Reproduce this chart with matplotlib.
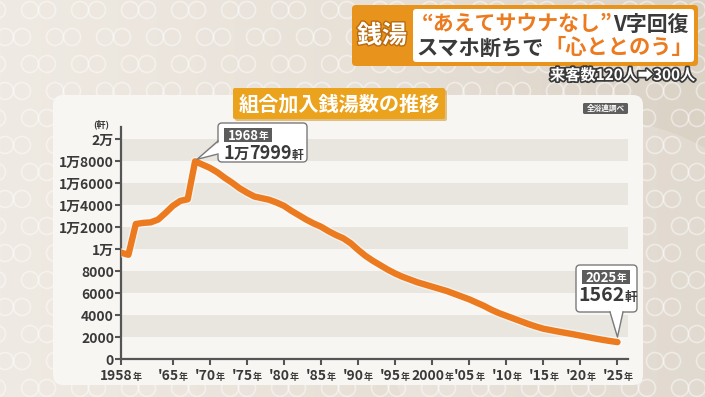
import matplotlib
matplotlib.use("Agg")
import numpy as np
import matplotlib.pyplot as plt
from matplotlib.patches import FancyBboxPatch, Polygon, Circle, Rectangle
from matplotlib.offsetbox import TextArea, HPacker, AnnotationBbox
from matplotlib.colors import LinearSegmentedColormap
import matplotlib.patheffects as pe

plt.rcParams['font.family'] = ['Noto Sans CJK JP', 'DejaVu Sans']

# ---------------- data ----------------
years = list(range(1958, 2026))
counts = [9700, 9500, 12300, 12400, 12450, 12700, 13300, 13950, 14400, 14550,
          17999, 17700, 17400, 17000, 16500, 16050, 15550, 15150, 14800, 14650,
          14500, 14250, 13950, 13500, 13100, 12700, 12350, 12050, 11650, 11300,
          11000, 10550, 9950, 9400, 8950, 8550, 8150, 7800, 7500, 7250,
          7000, 6800, 6600, 6400, 6200, 5950, 5700, 5450, 5150, 4850,
          4500, 4200, 3950, 3700, 3450, 3200, 2980, 2780, 2650, 2520,
          2400, 2280, 2150, 2020, 1890, 1770, 1660, 1562]
band_ranges = [(2000, 4000), (6000, 8000), (10000, 12000), (14000, 16000), (18000, 20000)]
ytick_values = list(range(0, 20001, 2000))
ytick_labels = ["0", "2000", "4000", "6000", "8000", "1万", "1万2000", "1万4000",
                "1万6000", "1万8000", "2万"]
xtick_years = [1958, 1965, 1970, 1975, 1980, 1985, 1990, 1995, 2000, 2005, 2010, 2015, 2020, 2025]
xtick_nums = ["1958", "'65", "'70", "'75", "'80", "'85", "'90", "'95", "2000", "'05",
              "'10", "'15", "'20", "'25"]
year_suffix = "年"
peak_year, peak_value = 1968, 17999
last_year, last_value = 2025, 1562
title = "組合加入銭湯数の推移"
source = "全浴連調べ"
unit = "(軒)"

# ---------------- colours ----------------
ORANGE = '#EC7A1F'
DARK = '#3A3A3A'
W, H = 705, 397

fig = plt.figure(figsize=(W / 100, H / 100), dpi=100)

# background layer (pixel coordinates, y downwards)
bg = fig.add_axes([0, 0, 1, 1], zorder=0)
cmap = LinearSegmentedColormap.from_list('bgc', ['#EFEAE3', '#E8E1D8', '#DBD2C6'])
bg.imshow(np.linspace(0, 1, 256)[None, :], extent=[0, W, H, 0], aspect='auto', cmap=cmap)
for r, yy in enumerate(range(10, H + 20, 27)):
    off = 0 if r % 2 == 0 else 25
    for xx in range(-20 + off, W + 40, 50):
        for dx in (0, 17):
            bg.add_patch(Circle((xx + dx, yy), 8.5, fill=False, ec='white', lw=1.2, alpha=0.45))
bg.add_patch(Circle((600, 330), 210, fc='white', ec='none', alpha=0.18))
bg.add_patch(FancyBboxPatch((53, 95), 590, 290, boxstyle='round,pad=0,rounding_size=10',
                            fc='#F8F6F2', ec='none'))
bg.set_xlim(0, W)
bg.set_ylim(H, 0)
bg.axis('off')

# ---------------- chart axes ----------------
y0_px, ytop_px = 359.3, 126.5
x0_px, x1_px = 121, 628
ax = fig.add_axes([x0_px / W, (H - y0_px) / H, (x1_px - x0_px) / W, (y0_px - ytop_px) / H], zorder=2)
ax.patch.set_alpha(0)
ax.set_xlim(1958, 1958 + (x1_px - x0_px) / 7.41)
ax.set_ylim(0, (y0_px - ytop_px) / 0.011)

for lo, hi in band_ranges:
    ax.axhspan(lo, hi, color='#E9E6E0', zorder=0, lw=0)

ax.plot(years, counts, color=ORANGE, lw=4.6, solid_capstyle='round', solid_joinstyle='round',
        zorder=3, path_effects=[pe.withStroke(linewidth=6.5, foreground='white', alpha=0.5)])

for s in ['top', 'right']:
    ax.spines[s].set_visible(False)
for s in ['left', 'bottom']:
    ax.spines[s].set_color('#555555')
    ax.spines[s].set_linewidth(1.6)

ax.set_yticks(ytick_values)
ax.set_yticklabels(ytick_labels, fontsize=10, fontweight='bold', color=DARK)
ax.set_xticks(xtick_years)
ax.set_xticklabels([])
ax.tick_params(axis='both', direction='out', length=4, width=1.5, color='#555555', pad=1)

for yr, num in zip(xtick_years, xtick_nums):
    box = HPacker(children=[TextArea(num, textprops=dict(fontsize=10, fontweight='bold', color=DARK)),
                            TextArea(year_suffix, textprops=dict(fontsize=6.5, fontweight='bold', color=DARK))],
                  align='baseline', pad=0, sep=0)
    ab = AnnotationBbox(box, (yr, 0), xybox=(0, -12), xycoords=('data', 'axes fraction'),
                        boxcoords='offset points', frameon=False, box_alignment=(0.5, 0.5),
                        pad=0, annotation_clip=False)
    ax.add_artist(ab)

# ---------------- foreground layer ----------------
fg = fig.add_axes([0, 0, 1, 1], zorder=5)
fg.set_xlim(0, W)
fg.set_ylim(H, 0)
fg.axis('off')
fg.patch.set_alpha(0)


def to_fg(x, y):
    return fg.transData.inverted().transform(ax.transData.transform((x, y)))


def mixed(x, y, parts, align=(0.5, 0.5), stroke=None):
    ch = []
    for s, size, color in parts:
        tp = dict(fontsize=size, fontweight='bold', color=color)
        if stroke:
            tp['path_effects'] = [pe.withStroke(linewidth=stroke[0], foreground=stroke[1])]
        ch.append(TextArea(s, textprops=tp))
    box = HPacker(children=ch, align='baseline', pad=0, sep=0)
    ab = AnnotationBbox(box, (x, y), xycoords='data', frameon=False, box_alignment=align,
                        pad=0, annotation_clip=False)
    fg.add_artist(ab)


# unit label
fg.text(101, 124, unit, fontsize=6.5, fontweight='bold', color=DARK, ha='center', va='center')

# title tag
fg.add_patch(FancyBboxPatch((235, 90), 212, 31, boxstyle='round,pad=0,rounding_size=2',
                            fc='#C98A1A', ec='none', alpha=0.5))
fg.add_patch(FancyBboxPatch((233, 88), 212, 31, boxstyle='round,pad=0,rounding_size=2',
                            fc='#EBA21C', ec='none'))
fg.text(339, 104, title, fontsize=14.5, fontweight='bold', color='white', ha='center', va='center')

# source tag
fg.add_patch(FancyBboxPatch((583, 103), 45, 11, boxstyle='round,pad=0,rounding_size=1.5',
                            fc='#5E5E5E', ec='none'))
fg.text(605.5, 108.5, source, fontsize=5.5, fontweight='bold', color='white', ha='center', va='center')

# header
fg.add_patch(FancyBboxPatch((352, 5), 346, 61, boxstyle='round,pad=0,rounding_size=4',
                            fc='#E8931B', ec='none'))
fg.add_patch(FancyBboxPatch((413, 9), 281, 53, boxstyle='round,pad=0,rounding_size=3',
                            fc='white', ec='none'))
fg.text(382, 36, "銭湯", fontsize=18, fontweight='bold', color='white', ha='center', va='center',
        path_effects=[pe.withStroke(linewidth=2, foreground='#B86A10')])
mixed(555, 24, [("“あえてサウナなし”", 15, ORANGE), ("V字回復", 15, DARK)])
mixed(555, 48, [("スマホ断ちで", 15.3, DARK), ("「心ととのう」", 15.3, ORANGE)])
mixed(695, 75, [("来客数120人", 11, 'white'), ("➡", 11, 'white'), ("300人", 11, 'white')],
      align=(1, 0.5), stroke=(2.5, '#3A3A3A'))


def callout(bx, by, bw, bh, base, tip, label, num):
    fg.add_patch(FancyBboxPatch((bx, by), bw, bh, boxstyle='round,pad=0,rounding_size=4',
                                fc='white', ec='#7A7A7A', lw=1.0, zorder=1))
    (b1, b2, inward) = base
    fg.add_patch(Polygon([b1 + np.array(inward), b2 + np.array(inward), tip], closed=True,
                         fc='white', ec='none', zorder=2))
    fg.plot([b1[0], tip[0], b2[0]], [b1[1], tip[1], b2[1]], color='#7A7A7A', lw=1.0, zorder=3)
    fg.add_patch(Rectangle((bx + 6, by + 5), 48, 14, fc='#5C5C5C', ec='none', zorder=3))
    mixed(bx + 30, by + 12.5, [(label, 9.5, 'white'), (year_suffix, 7, 'white')])
    mixed(bx + bw / 2 + 1, by + 30.5, num)


pk = to_fg(peak_year, peak_value)
callout(218, 123, 89, 39, (np.array([218, 141.0]), np.array([218, 154.0]), (2.5, 0)),
        (pk[0] + 2, pk[1] - 2), str(peak_year),
        [("1", 13, DARK), ("万", 11, DARK), (f"{peak_value % 10000}", 13, DARK), ("軒", 8.5, DARK)])

ls = to_fg(last_year, last_value)
callout(576, 265, 61, 47, (np.array([610, 312.0]), np.array([623, 312.0]), (0, -2.5)),
        (ls[0], ls[1] - 5), str(last_year),
        [(f"{last_value}", 14, DARK), ("軒", 9, DARK)])

fig.savefig("out.png", dpi=100)
